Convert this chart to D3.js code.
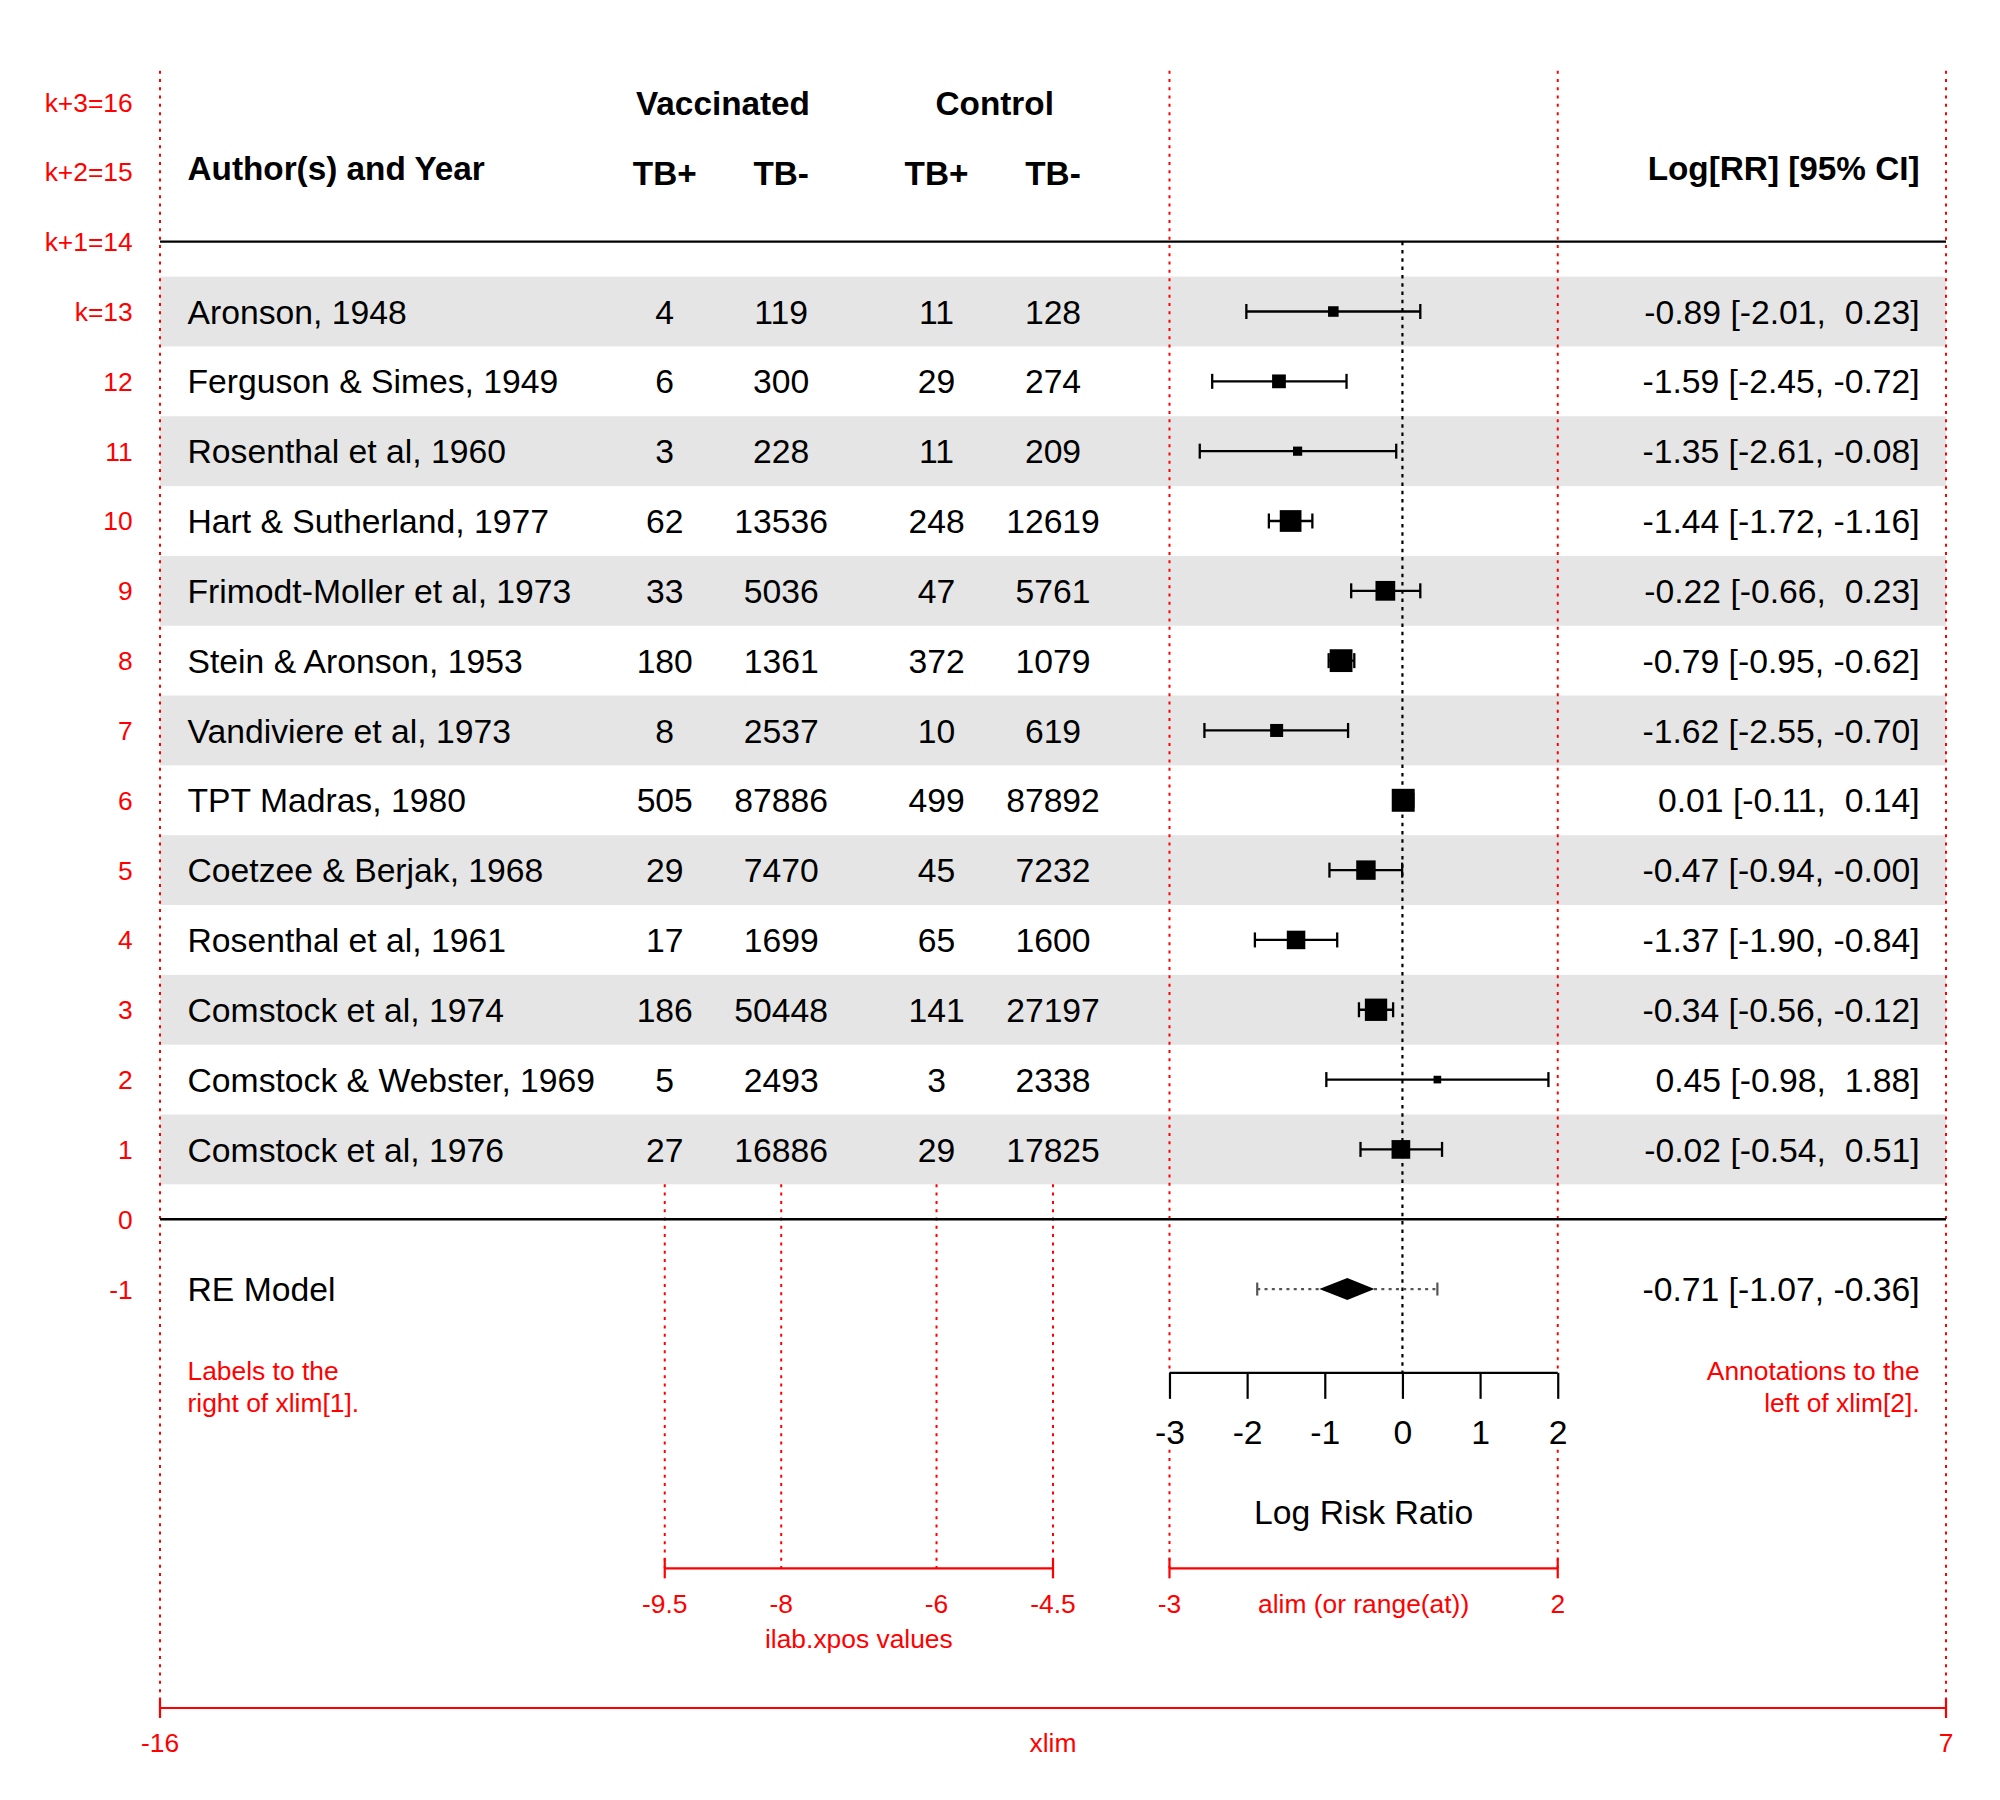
<!DOCTYPE html>
<html>
<head>
<meta charset="utf-8">
<script src="https://cdn.jsdelivr.net/npm/d3@7"></script>
<style>
  html, body { margin: 0; padding: 0; background: #ffffff; }
  svg { display: block; }
  text { font-family: "Liberation Sans", Arial, Helvetica, sans-serif; white-space: pre; }
</style>
</head>
<body>
<svg id="chart" width="2000" height="1800"></svg>
<script>
// ---------------- DATA ----------------
const studies = ["Aronson, 1948", "Ferguson & Simes, 1949", "Rosenthal et al, 1960",
  "Hart & Sutherland, 1977", "Frimodt-Moller et al, 1973", "Stein & Aronson, 1953",
  "Vandiviere et al, 1973", "TPT Madras, 1980", "Coetzee & Berjak, 1968",
  "Rosenthal et al, 1961", "Comstock et al, 1974", "Comstock & Webster, 1969",
  "Comstock et al, 1976"];
const vaccTBpos = [4, 6, 3, 62, 33, 180, 8, 505, 29, 17, 186, 5, 27];
const vaccTBneg = [119, 300, 228, 13536, 5036, 1361, 2537, 87886, 7470, 1699, 50448, 2493, 16886];
const ctrlTBpos = [11, 29, 11, 248, 47, 372, 10, 499, 45, 65, 141, 3, 29];
const ctrlTBneg = [128, 274, 209, 12619, 5761, 1079, 619, 87892, 7232, 1600, 27197, 2338, 17825];
const logRR   = [-0.89, -1.59, -1.35, -1.44, -0.22, -0.79, -1.62, 0.01, -0.47, -1.37, -0.34, 0.45, -0.02];
const ciLower = [-2.01, -2.45, -2.61, -1.72, -0.66, -0.95, -2.55, -0.11, -0.94, -1.90, -0.56, -0.98, -0.54];
const ciUpper = [0.23, -0.72, -0.08, -1.16, 0.23, -0.62, -0.70, 0.14, -0.004, -0.84, -0.12, 1.88, 0.51];
const pointSize = [0.69, 0.90, 0.60, 1.42, 1.29, 1.49, 0.85, 1.50, 1.27, 1.21, 1.46, 0.50, 1.22];

const reModel = { label: "RE Model", est: -0.71, lower: -1.07, upper: -0.36, piLower: -1.87, piUpper: 0.45 };

const ilabPos = [-9.5, -8, -6, -4.5];
const ilabHeaders = ["TB+", "TB-", "TB+", "TB-"];
const groupHeaders = ["Vaccinated", "Control"];
const groupPos = [-8.75, -5.25];
const axisTicks = [-3, -2, -1, 0, 1, 2];
const xlimVals = [-16, 7];
const alimVals = [-3, 2];
const rowLabelVals = [16, 15, 14, 13, 12, 11, 10, 9, 8, 7, 6, 5, 4, 3, 2, 1, 0, -1];
const rowLabelText = ["k+3=16", "k+2=15", "k+1=14", "k=13", "12", "11", "10", "9", "8", "7", "6", "5", "4", "3", "2", "1", "0", "-1"];

// ---------------- SCALES ----------------
const x = d3.scaleLinear().domain([-16, 7]).range([160, 1946]);
const y = d3.scaleLinear().domain([-7, 14]).range([1708, 241.7]);

const svg = d3.select("#chart");
const FS = 33.7, FSB = 33.3, FSR = 26.4;
const RED = "#ff0000";
const k = studies.length;
const rowY = studies.map((s, i) => k - i);
const idx = d3.range(k);

// ---------------- SHADING ----------------
svg.append("g").selectAll("rect").data(idx.filter(i => rowY[i] % 2 === 1)).join("rect")
  .attr("x", x(-16)).attr("width", x(7) - x(-16))
  .attr("y", i => y(rowY[i] + 0.5)).attr("height", i => y(rowY[i] - 0.5) - y(rowY[i] + 0.5))
  .attr("fill", "#e5e5e5");

// ---------------- RED GUIDE LINES ----------------
const red = svg.append("g").attr("stroke", RED).attr("stroke-width", 2).attr("stroke-dasharray", "3,5.3");
const yTop = 16.45;
xlimVals.forEach(v => red.append("line").attr("x1", x(v)).attr("x2", x(v)).attr("y1", y(yTop)).attr("y2", y(-7)));
alimVals.forEach(v => {
  red.append("line").attr("x1", x(v)).attr("x2", x(v)).attr("y1", y(yTop)).attr("y2", y(-2.2));
  red.append("line").attr("x1", x(v)).attr("x2", x(v)).attr("y1", y(-3.3)).attr("y2", y(-5));
});
ilabPos.forEach(v => red.append("line").attr("x1", x(v)).attr("x2", x(v)).attr("y1", y(0.5)).attr("y2", y(-5)));

// red range bars
function redBar(a, b, yy) {
  const g = svg.append("g").attr("stroke", RED).attr("stroke-width", 2.2);
  g.append("line").attr("x1", x(a)).attr("x2", x(b)).attr("y1", y(yy)).attr("y2", y(yy));
  [a, b].forEach(v => g.append("line").attr("x1", x(v)).attr("x2", x(v)).attr("y1", y(yy) - 10).attr("y2", y(yy) + 10));
}
redBar(ilabPos[0], ilabPos[3], -5);
redBar(alimVals[0], alimVals[1], -5);
redBar(xlimVals[0], xlimVals[1], -7);

// ---------------- HORIZONTAL RULES ----------------
[k + 1, 0].forEach(v => svg.append("line").attr("x1", x(-16)).attr("x2", x(7))
  .attr("y1", y(v)).attr("y2", y(v)).attr("stroke", "#000").attr("stroke-width", 2.3));

// reference line
svg.append("line").attr("x1", x(0)).attr("x2", x(0)).attr("y1", y(k + 1)).attr("y2", y(-2.2))
  .attr("stroke", "#000").attr("stroke-width", 2.2).attr("stroke-dasharray", "3.5,4.8");

// ---------------- CI LINES & POINTS ----------------
const ci = svg.append("g").attr("stroke", "#000").attr("stroke-width", 2.3);
idx.forEach(i => {
  const yy = y(rowY[i]);
  ci.append("line").attr("x1", x(ciLower[i])).attr("x2", x(ciUpper[i])).attr("y1", yy).attr("y2", yy);
  [ciLower[i], ciUpper[i]].forEach(v => ci.append("line").attr("x1", x(v)).attr("x2", x(v)).attr("y1", yy - 7.5).attr("y2", yy + 7.5));
});
svg.append("g").selectAll("rect").data(idx).join("rect")
  .attr("x", i => x(logRR[i]) - pointSize[i] * 15.3 / 2)
  .attr("y", i => y(rowY[i]) - pointSize[i] * 15.3 / 2)
  .attr("width", i => pointSize[i] * 15.3).attr("height", i => pointSize[i] * 15.3)
  .attr("fill", "#000");

// RE model: prediction interval + diamond
const yRE = y(-1);
const pi = svg.append("g").attr("stroke", "#555555").attr("stroke-width", 2.2);
pi.append("line").attr("x1", x(reModel.piLower)).attr("x2", x(reModel.piUpper)).attr("y1", yRE).attr("y2", yRE)
  .attr("stroke-dasharray", "3,4.3");
[reModel.piLower, reModel.piUpper].forEach(v => pi.append("line").attr("x1", x(v)).attr("x2", x(v)).attr("y1", yRE - 6.5).attr("y2", yRE + 6.5));
svg.append("polygon")
  .attr("points", [[x(reModel.lower), yRE], [x(reModel.est), yRE - 11], [x(reModel.upper), yRE], [x(reModel.est), yRE + 11]].map(p => p.join(",")).join(" "))
  .attr("fill", "#000");

// ---------------- AXIS ----------------
const axisY = y(-2.2);
const axG = svg.append("g").attr("transform", `translate(0,${axisY})`)
  .call(d3.axisBottom(x).tickValues(axisTicks).tickFormat(d => String(d)).tickSize(26).tickPadding(12));
axG.select(".domain").remove();
axG.append("line").attr("x1", x(-3)).attr("x2", x(2)).attr("stroke", "#000").attr("stroke-width", 2.3);
axG.selectAll(".tick line").attr("stroke", "#000").attr("stroke-width", 2.2);
axG.selectAll(".tick text").attr("fill", "#000").attr("font-size", FS)
  .attr("font-family", '"Liberation Sans", Arial, sans-serif').attr("dy", null).attr("y", 1431.5 - axisY + FS * 0.36);

// ---------------- TEXT ----------------
function txt(xx, yy, s, opts = {}) {
  const fs = opts.fs || (opts.bold ? FSB : FS);
  return svg.append("text").attr("x", xx).attr("y", yy + fs * 0.36 + (opts.dy || 0))
    .attr("font-size", fs).attr("font-weight", opts.bold ? "bold" : null)
    .attr("fill", opts.fill || "#000").attr("text-anchor", opts.anchor || "start").text(s);
}
const fmt = v => v.toFixed(2).padStart(5, " ");
const annot = i => `${fmt(logRR[i])} [${fmt(ciLower[i])}, ${fmt(ciUpper[i])}]`;

const xLab = x(-16) + 27.5, xAnn = x(7) - 26.4;

// headers
txt(xLab, y(k + 2), "Author(s) and Year", { bold: true, dy: -3.5 });
txt(xAnn, y(k + 2), "Log[RR] [95% CI]", { bold: true, anchor: "end", dy: -3.5 });
ilabHeaders.forEach((h, j) => txt(x(ilabPos[j]), y(k + 2), h, { bold: true, anchor: "middle", dy: 1 }));
groupHeaders.forEach((h, j) => txt(x(groupPos[j]), y(k + 3), h, { bold: true, anchor: "middle", dy: 1 }));

// rows
const cols = [vaccTBpos, vaccTBneg, ctrlTBpos, ctrlTBneg];
idx.forEach(i => {
  const yy = y(rowY[i]);
  txt(xLab, yy, studies[i]);
  cols.forEach((c, j) => txt(x(ilabPos[j]), yy, String(c[i]), { anchor: "middle" }));
  txt(xAnn, yy, annot(i), { anchor: "end" });
});
txt(xLab, yRE, reModel.label);
txt(xAnn, yRE, `${fmt(reModel.est)} [${fmt(reModel.lower)}, ${fmt(reModel.upper)}]`, { anchor: "end" });

// axis title
txt(x(-0.5), 1511.5, "Log Risk Ratio", { anchor: "middle" });

// red row labels
rowLabelVals.forEach((v, j) => txt(x(-16) - 27.3, y(v), rowLabelText[j], { fs: FSR, fill: RED, anchor: "end" }));

// red annotations
txt(xLab, 1370, "Labels to the", { fs: FSR, fill: RED });
txt(xLab, 1402, "right of xlim[1].", { fs: FSR, fill: RED });
txt(xAnn, 1370, "Annotations to the", { fs: FSR, fill: RED, anchor: "end" });
txt(xAnn, 1402, "left of xlim[2].", { fs: FSR, fill: RED, anchor: "end" });

ilabPos.forEach(v => txt(x(v), y(-5.5), String(v), { fs: FSR, fill: RED, anchor: "middle" }));
txt(x((ilabPos[0] + ilabPos[3]) / 2), y(-6), "ilab.xpos values", { fs: FSR, fill: RED, anchor: "middle" });
alimVals.forEach(v => txt(x(v), y(-5.5), String(v), { fs: FSR, fill: RED, anchor: "middle" }));
txt(x((alimVals[0] + alimVals[1]) / 2), y(-5.5), "alim (or range(at))", { fs: FSR, fill: RED, anchor: "middle" });
xlimVals.forEach(v => txt(x(v), y(-7.5), String(v), { fs: FSR, fill: RED, anchor: "middle" }));
txt(x((xlimVals[0] + xlimVals[1]) / 2), y(-7.5), "xlim", { fs: FSR, fill: RED, anchor: "middle" });
</script>
</body>
</html>
